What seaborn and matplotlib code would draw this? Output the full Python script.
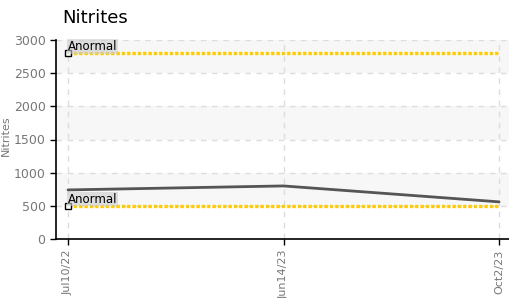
import numpy as np
import pandas as pd
import seaborn as sns
import matplotlib.pyplot as plt

# data
dates = ["Jul10/22", "Jun14/23", "Oct2/23"]
nitrites = [740, 800, 560]
limit_high = 2800
limit_low = 500
limit_label = "Anormal"
y_ticks = [0, 500, 1000, 1500, 2000, 2500, 3000]

sns.set_style("white")
plt.rcParams['font.family'] = ['DejaVu Sans']

df = pd.DataFrame({"pos": range(len(dates)), "date": dates, "value": nitrites})

fig = plt.figure(figsize=(5.09, 2.98), dpi=100)
ax = fig.add_axes([56 / 509, 59 / 298, 453 / 509, 199 / 298])

# alternating horizontal bands
for i in range(len(y_ticks) - 1):
    if i % 2 == 1:
        ax.axhspan(y_ticks[i], y_ticks[i + 1], color="#f7f7f7", zorder=0, lw=0)

ax.grid(True, color="#dddddd", linestyle=(0, (4, 4)), linewidth=1)
ax.set_axisbelow(True)

# thresholds
for lim in (limit_high, limit_low):
    ax.plot([0, len(dates) - 1], [lim, lim], color="#ffcc00", linestyle=(0, (1, 0.6)),
            linewidth=2.4, zorder=2)
    ax.plot([0], [lim], marker="s", markersize=5, markerfacecolor="white",
            markeredgecolor="black", markeredgewidth=1, zorder=5, clip_on=False)
    ax.text(0, lim + 50, limit_label, fontsize=8.5, color="black", zorder=6,
            bbox=dict(facecolor="#cccccc", alpha=0.6, edgecolor="none", pad=0.5))

sns.lineplot(data=df, x="pos", y="value", color="#555555", linewidth=2, ax=ax, zorder=4)

ax.set_xlim(-12 / 215.5, 2 + 10 / 215.5)
ax.set_ylim(0, 3000)
ax.set_yticks(y_ticks)
ax.set_xticks(df["pos"])
ax.set_xticklabels(dates, rotation=90, fontsize=8, color="#777777")
ax.tick_params(axis="y", labelsize=9, labelcolor="#777777")
ax.tick_params(axis="both", direction="out", length=4, width=1, color="black", bottom=True, left=True)
ax.set_xlabel("")
ax.set_ylabel("Nitrites", fontsize=8, color="#777777")
ax.yaxis.set_label_coords(-45 / 453, 0.52)

for side in ("top", "right"):
    ax.spines[side].set_visible(False)
for side in ("left", "bottom"):
    ax.spines[side].set_color("black")
    ax.spines[side].set_linewidth(1.2)

fig.text(62 / 509, 1 - 18 / 298, "Nitrites", fontsize=13, family="DejaVu Sans",
         va="center", ha="left", color="black")

fig.savefig("out.png", dpi=100)
